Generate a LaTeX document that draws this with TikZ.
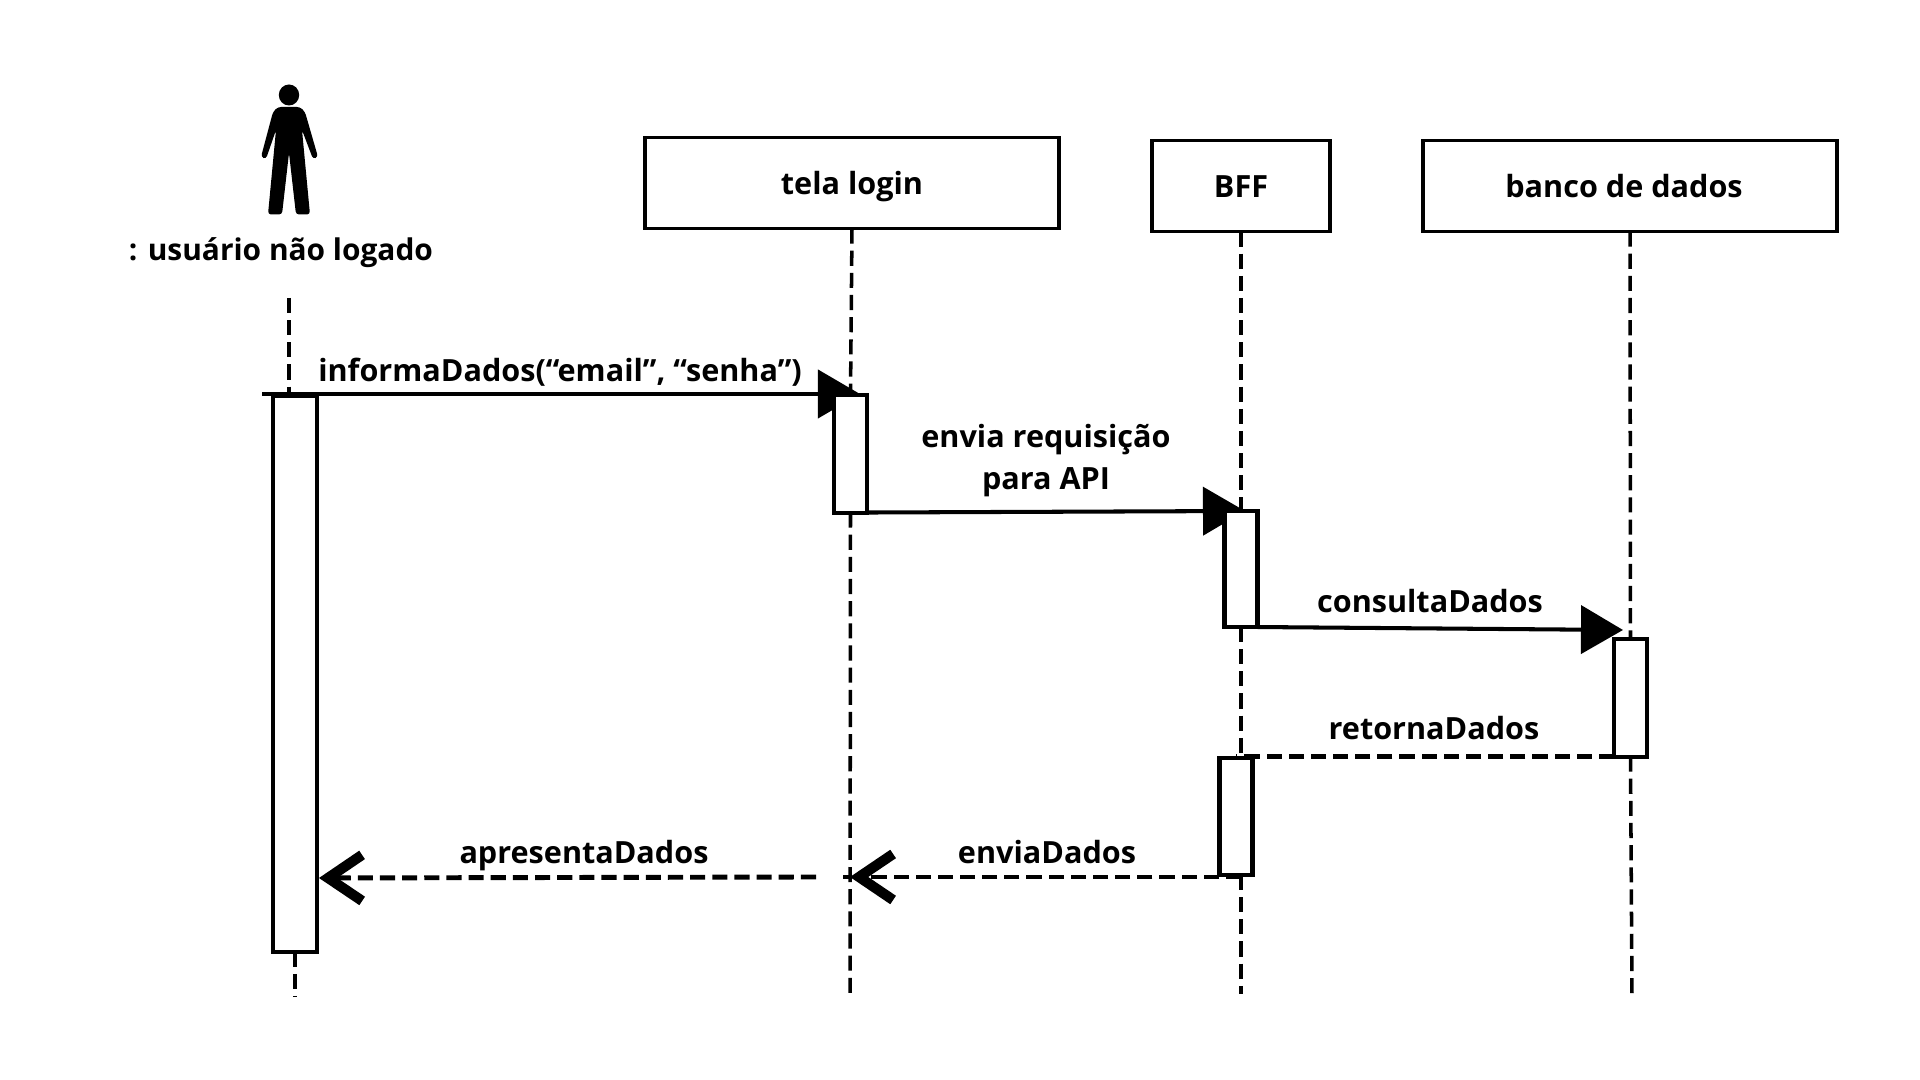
\documentclass[tikz,border=0pt]{standalone}
\usepackage{fontspec}
\setmainfont{Open Sans}
\usetikzlibrary{arrows.meta,backgrounds}
\begin{document}
\begin{tikzpicture}[x=.01cm,y=-.01cm]
\tikzset{
    lab/.style={font=\fontsize{8.7}{11.95}\selectfont\bfseries, align=center, inner sep=0},
    obj/.style={draw, fill=white, line width=1.05pt, outer sep=0, lab, minimum height=.91cm},
    act/.style={draw, fill=white, line width=1.15pt, outer sep=0, minimum width=\wact, inner sep=0},
    life/.style={line width=1pt, dash pattern=on 4.3pt off 2pt},
    call/.style={line width=1.15pt, -{Triangle[length=.42cm,width=.48cm]}},
    back/.style={line width=1.2pt, dash pattern=on 4.3pt off 2pt},
    backA/.style={back, line width=1.4pt, -{Straight Barb[length=.34cm,width=.46cm,line width=2.9pt]}}}
\def\wact{.33cm}

\useasboundingbox (0,0) rectangle (1920,1080);
\begin{pgfonlayer}{background}
\fill[white] (0,0) rectangle (1920,1080);
\end{pgfonlayer}

% actor
\fill (289,95) ellipse [x radius=10.2, y radius=10.5];
\fill[rounded corners=.03cm] (289,107) -- (300,107) -- (305,112) -- (318,157) -- (313,159)
    -- (302,130) -- (310,214.5) -- (296,214.5) -- (289,153) -- (282,214.5) -- (268,214.5)
    -- (276,130) -- (266,159) -- (261,157) -- (273,112) -- (278,107) -- cycle;
\node[lab, font=\fontsize{8.5}{11}\selectfont\bfseries] (user) at (281,253) {: usuário não logado};

% objects
\node[obj, minimum width=4.14cm] (login) at (852,183) {};
\node[lab] (loginL) at (852,187) {tela login};
\node[obj, minimum width=1.78cm] (bff) at (1241,186) {};
\node[lab] (bffL) at (1241,187) {BFF};
\node[obj, minimum width=4.14cm] (banco) at (1630,186) {};
\node[lab] (bancoL) at (1624,186) {banco de dados};

% activations
\node[act, minimum height=5.55cm, minimum width=.44cm] (userA) at (295,674) {};
\node[act, minimum height=1.17cm] (loginA) at (850.5,454) {};
\node[act, minimum height=1.16cm] (bffA) at (1241,569) {};
\node[act, minimum height=1.17cm] (bancoA) at (1630.5,698) {};
\node[act, minimum height=1.17cm] (bffB) at (1236,816.5) {};

\path (289,298)coordinate(userTop);
\path (262,394)coordinate(userFree);
\path (295,996)coordinate(userEnd);
\path (850,996)coordinate(loginEnd);
\path (1241,994)coordinate(bffEnd);
\path (1632,996)coordinate(bancoEnd);
\path (860,394)coordinate(loginTip);
\path (1245,511)coordinate(bffTip);
\path (1623,630)coordinate(bancoTip);
\path (850,877)coordinate(loginBack);
\path (843,877)coordinate(loginStub);
\path (816,877)coordinate(gapFree);
\path (319,878)coordinate(userBack);

\begin{pgfonlayer}{background}
% life lines
\draw[life] (userTop) -- (userTop |- userA.north);
\draw[life] (userA.south) -- (userEnd);
\draw[life] (login.south) -- (loginA.north);
\draw[life] (loginA.south) -- (loginEnd);
\draw[life] (bff.south) -- (bffA.north);
\draw[life] (bffA.south) -- (bffA.south |- bffB.north);
\draw[life] (bffEnd |- bffB.south) -- (bffEnd);
\draw[life] (banco.south) -- (bancoA.north);
\draw[life] (bancoA.south) -- (bancoEnd);

% messages
\draw[call] (userFree) -- (loginTip);
\draw[call] (loginA.south east) -- (bffTip);
\draw[call] (bffA.south east) -- (bancoTip);
\draw[back] (bancoA.south west) -- (bancoA.south west -| bffB.north);
\draw[backA] (bffEnd |- loginBack) -- (loginBack);
\draw[back] (loginBack) -- (loginStub);
\draw[backA] (gapFree) -- (userBack);
\end{pgfonlayer}

% labels
\node[lab] (m1) at (560,372) {informaDados(“email”, “senha”)};
\node[lab] (m2) at (1046,461) {envia requisição\\para API};
\node[lab] (m3) at (1430,601) {consultaDados};
\node[lab] (m4) at (1434,728) {retornaDados};
\node[lab] (m5) at (584,856) {apresentaDados};
\node[lab] (m6) at (1047,852) {enviaDados};
\end{tikzpicture}
\end{document}
